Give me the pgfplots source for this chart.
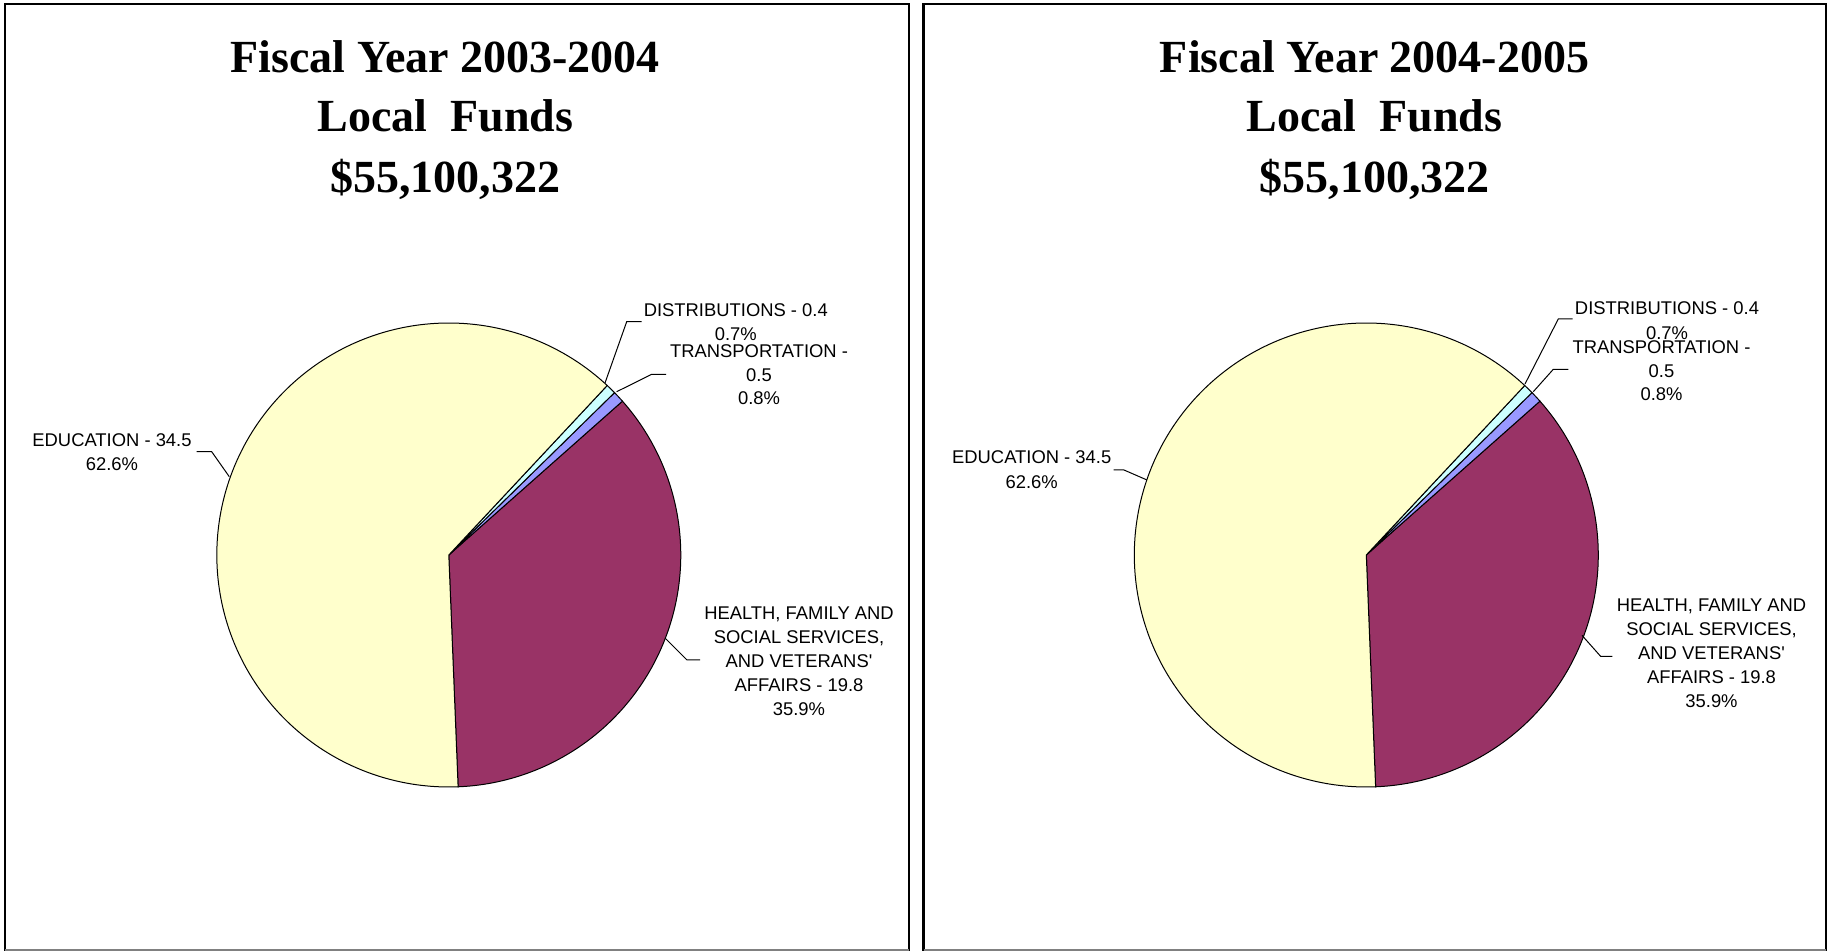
\documentclass[border=0pt]{standalone}
\usepackage{pgfplots}
\pgfplotsset{compat=1.18}
\usepackage{pgfplotstable}
\usepackage{fontspec}
\setmainfont{Liberation Serif}
\newfontfamily\arialfont{Liberation Sans}
\definecolor{edu}{HTML}{FFFFCC}
\definecolor{hfs}{HTML}{993366}
\definecolor{dist}{HTML}{CCFFFF}
\definecolor{trans}{HTML}{9999FF}

% shares in percent, drawn counter-clockwise from the start angle
\pgfplotstableread{
label share
HFSS 35.9
Transportation 0.8
Distributions 0.7
Education 62.6
}\piedata

\newcommand\pieslices{%
  \addplot[fill=hfs, draw=black, line width=0.5pt, domain=\aO:\aA, samples=120, variable=\t] ({cos(\t)},{sin(\t)}) -- (axis cs:0,0) -- cycle;
  \addplot[fill=trans, draw=black, line width=0.5pt, domain=\aA:\aB, samples=6, variable=\t] ({cos(\t)},{sin(\t)}) -- (axis cs:0,0) -- cycle;
  \addplot[fill=dist, draw=black, line width=0.5pt, domain=\aB:\aC, samples=6, variable=\t] ({cos(\t)},{sin(\t)}) -- (axis cs:0,0) -- cycle;
  \addplot[fill=edu, draw=black, line width=0.5pt, domain=\aC:\aD, samples=200, variable=\t] ({cos(\t)},{sin(\t)}) -- (axis cs:0,0) -- cycle;
}

\begin{document}
\begin{tikzpicture}
\pgfplotstablegetelem{0}{share}\of\piedata \let\sA\pgfplotsretval
\pgfplotstablegetelem{1}{share}\of\piedata \let\sB\pgfplotsretval
\pgfplotstablegetelem{2}{share}\of\piedata \let\sC\pgfplotsretval
\pgfplotstablegetelem{3}{share}\of\piedata \let\sD\pgfplotsretval
\pgfmathsetmacro\aO{-87.7}
\pgfmathsetmacro\aA{\aO+3.6*\sA}
\pgfmathsetmacro\aB{\aA+3.6*\sB}
\pgfmathsetmacro\aC{\aB+3.6*\sC}
\pgfmathsetmacro\aD{\aC+3.6*\sD}

\path[use as bounding box] (0pt,0pt) rectangle (914pt,-475.5pt);

% pies
\begin{axis}[scale only axis, width=232pt, height=232pt,
  xmin=-1, xmax=1, ymin=-1, ymax=1, hide axis, clip=false,
  anchor=origin, at={(224.4pt,-277.5pt)}]
\pieslices
\end{axis}
\begin{axis}[scale only axis, width=232pt, height=232pt,
  xmin=-1, xmax=1, ymin=-1, ymax=1, hide axis, clip=false,
  anchor=origin, at={(683.15pt,-277.5pt)}]
\pieslices
\end{axis}

\begin{scope}[x=0.5pt,y=-0.5pt]
% boxes
\draw[black, line width=1.3pt] (5,951)--(5,4)--(909,4)--(909,951);
\draw[gray, line width=0.6pt] (5,950)--(909,950);
\draw[black, line width=1.3pt] (923.5,951)--(923.5,4)--(1826,4)--(1826,951);
\draw[gray, line width=0.6pt] (923.5,950)--(1826,950);

% titles
\tikzset{ttl/.style={anchor=base, inner sep=0pt, font=\bfseries\fontsize{23}{28}\selectfont}}
\node[ttl] at (445.3,73) {Fiscal Year 2003-2004};
\node[ttl] at (445.3,132) {Local\ \ Funds};
\node[ttl] at (445.3,193) {\$55,100,322};
\node[ttl] at (1374.6,73) {Fiscal Year 2004-2005};
\node[ttl] at (1374.6,132) {Local\ \ Funds};
\node[ttl] at (1374.6,193) {\$55,100,322};

% labels
\tikzset{lbl/.style={anchor=base, inner sep=0pt, font=\arialfont\fontsize{9.2}{11}\selectfont}}
% left
\node[lbl] at (735.8,316.5) {DISTRIBUTIONS - 0.4};
\node[lbl] at (735.8,340.5) {0.7\%};
\node[lbl] at (759,358) {TRANSPORTATION -};
\node[lbl] at (759,381.7) {0.5};
\node[lbl] at (759,405) {0.8\%};
\node[lbl] at (112,446.7) {EDUCATION - 34.5};
\node[lbl] at (112,470.5) {62.6\%};
\node[lbl] at (799,620) {HEALTH, FAMILY AND};
\node[lbl] at (799,643.8) {SOCIAL SERVICES,};
\node[lbl] at (799,667.6) {AND VETERANS'};
\node[lbl] at (799,691.4) {AFFAIRS - 19.8};
\node[lbl] at (799,715.2) {35.9\%};
% right
\node[lbl] at (1667,315) {DISTRIBUTIONS - 0.4};
\node[lbl] at (1667,340) {0.7\%};
\node[lbl] at (1661.5,353.3) {TRANSPORTATION -};
\node[lbl] at (1661.5,377.3) {0.5};
\node[lbl] at (1661.5,400.7) {0.8\%};
\node[lbl] at (1031.7,464) {EDUCATION - 34.5};
\node[lbl] at (1031.7,488.3) {62.6\%};
\node[lbl] at (1711.5,612) {HEALTH, FAMILY AND};
\node[lbl] at (1711.5,635.8) {SOCIAL SERVICES,};
\node[lbl] at (1711.5,659.6) {AND VETERANS'};
\node[lbl] at (1711.5,683.4) {AFFAIRS - 19.8};
\node[lbl] at (1711.5,707.2) {35.9\%};

% leader lines
\tikzset{ldr/.style={black, line width=0.5pt}}
\draw[ldr] (605,383)--(626.7,321.7)--(641.7,321.7);
\draw[ldr] (616.7,391.7)--(651.7,374.3)--(666,374.3);
\draw[ldr] (229.3,476.7)--(211.7,451.7)--(196.7,451.7);
\draw[ldr] (665,638)--(687,660)--(700,660);
\draw[ldr] (1525,384)--(1558.3,319)--(1572.7,319);
\draw[ldr] (1533.3,391.7)--(1553.3,369.3)--(1568.3,369.3);
\draw[ldr] (1147,480)--(1124,470)--(1113.6,470);
\draw[ldr] (1582,635.4)--(1600.7,656.4)--(1612.4,656.4);
\end{scope}
\end{tikzpicture}
\end{document}
